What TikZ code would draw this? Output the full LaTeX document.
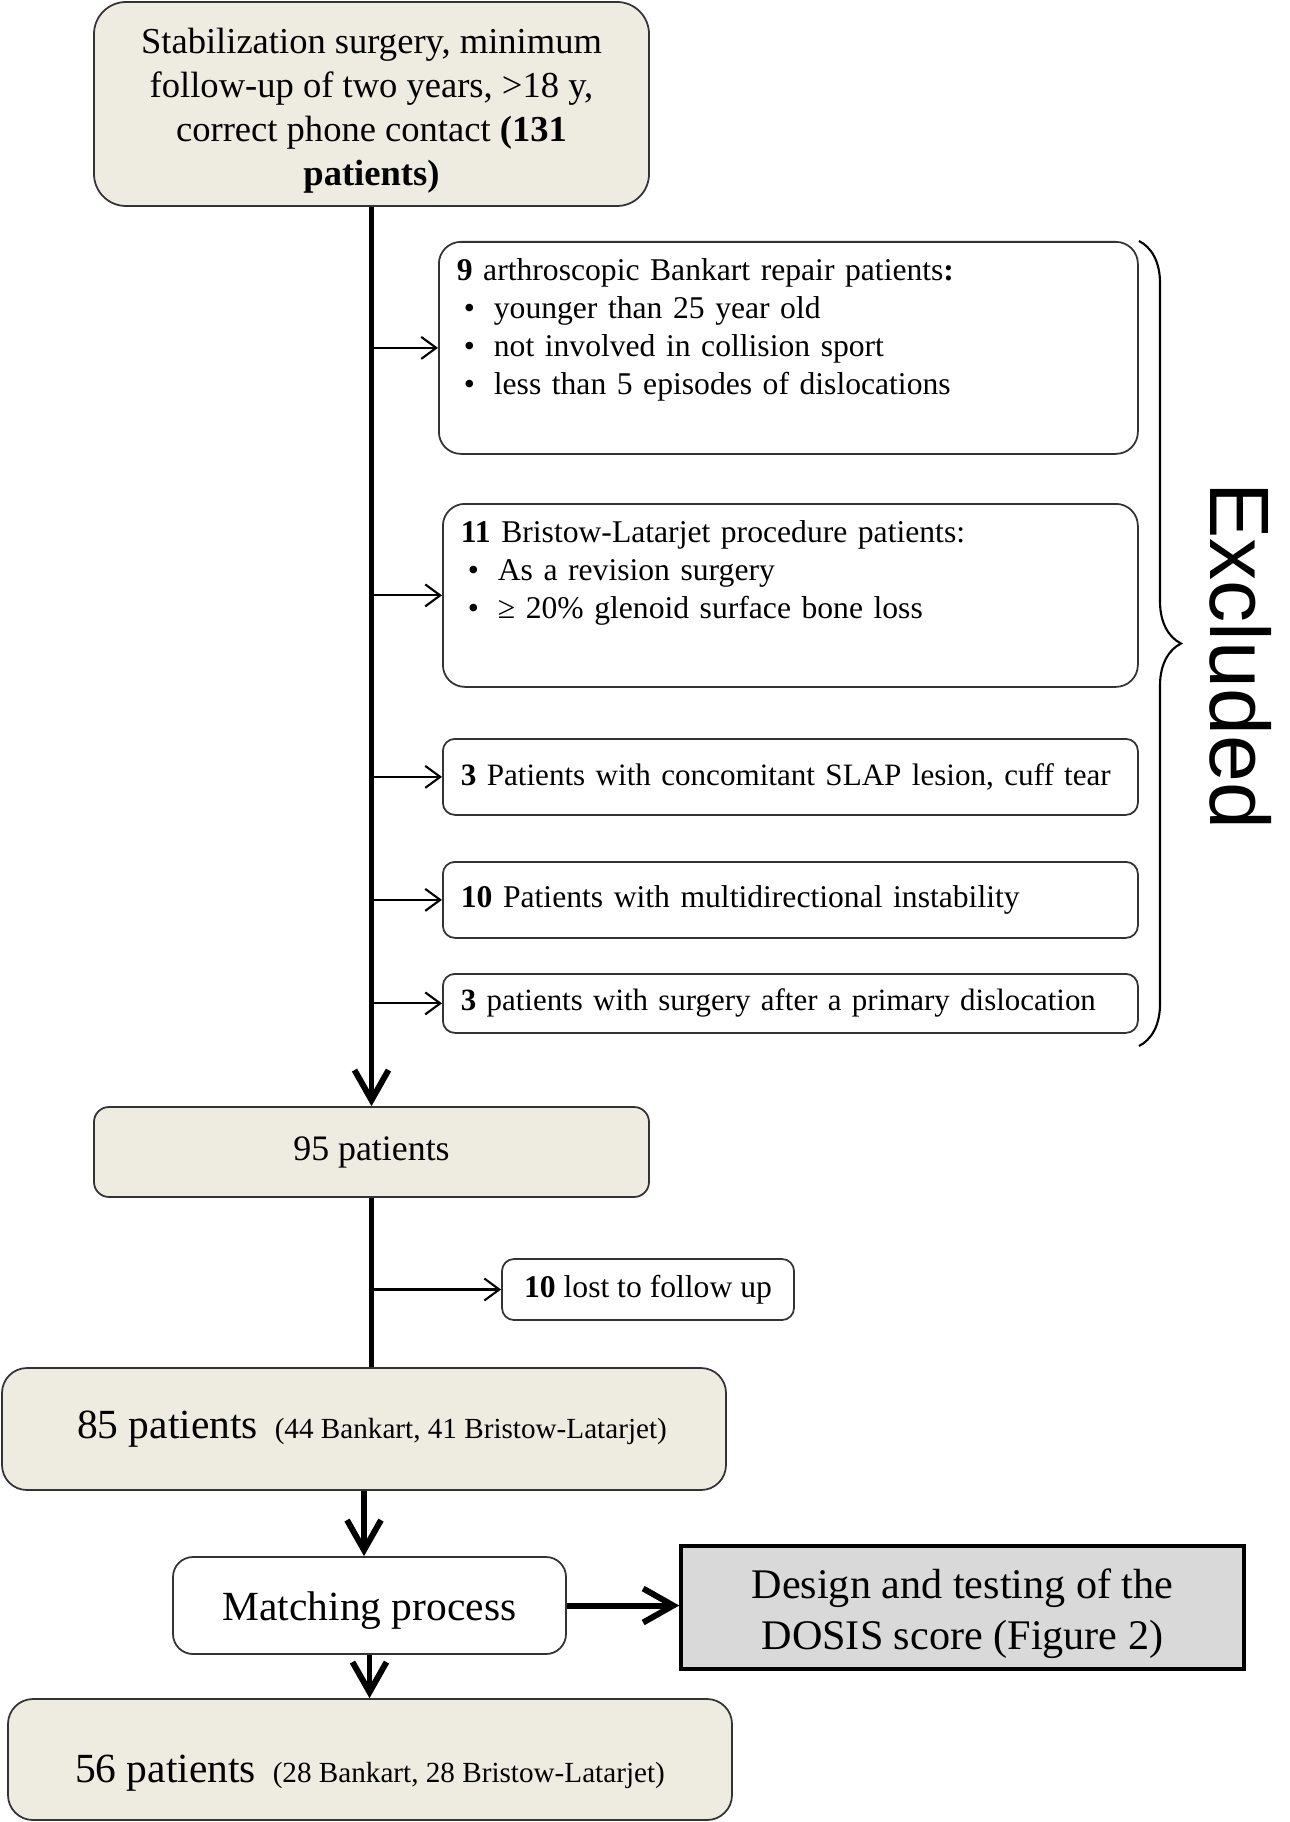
\documentclass[tikz,border=0pt]{standalone}
\usepackage{fontspec}
\setmainfont{Liberation Serif}
\newfontfamily\exclfont{Liberation Sans}
\usetikzlibrary{arrows.meta,decorations.pathreplacing,calc}
\definecolor{boxtan}{HTML}{EEECE1}
\definecolor{boxgray}{HTML}{D9D9D9}
\newcommand{\bul}{\hspace*{0.07cm}\makebox[0.30cm][l]{\textbullet}}

\begin{document}
\begin{tikzpicture}[
    tanbox/.style={draw=black!80, line width=0.5pt, fill=boxtan, rounded corners=#1, align=center, inner sep=0pt},
    tanbox/.default=0.2cm,
    whitebox/.style={draw=black!80, line width=0.5pt, fill=white, rounded corners=#1, align=center, inner sep=0pt},
    whitebox/.default=0.12cm,
    exbox/.style={draw=black!80, line width=0.5pt, fill=white, rounded corners=0.12cm, anchor=north west, align=left,
        inner xsep=0.18cm, inner ysep=0pt, font=\fontsize{9}{10.8}\selectfont},
    trunk/.style={line width=1.7pt},
    main/.style={trunk, -{Straight Barb[length=3mm,width=3.4mm]}},
    side/.style={line width=0.6pt, -{Straight Barb[length=1.5mm,width=2.2mm]}}
  ]
    \useasboundingbox (0,0) rectangle (12.89,-18.22);

    \node[tanbox=0.32cm, minimum width=5.55cm, minimum height=2.04cm, font=\fontsize{10.4}{12.5}\selectfont] (start) at (3.715,-1.04)
        {\rule{0pt}{0.38cm}Stabilization surgery, minimum\\ follow-up of two years, >18 y,\\ correct phone contact \textbf{(131}\\ \textbf{patients)}};

    \node[exbox, rounded corners=0.22cm, text width=6.63cm, text height=0.39cm, text depth=1.73cm] (excl1) at (4.38,-2.41)
        {\textbf{9} arthroscopic Bankart repair patients\textbf{:}\\ \bul younger than 25 year old\\ \bul not involved in collision sport\\ \bul less than 5 episodes of dislocations};
    \node[exbox, rounded corners=0.22cm, text width=6.59cm, text height=0.39cm, text depth=1.44cm] (excl2) at (4.42,-5.03)
        {\textbf{11} Bristow-Latarjet procedure patients:\\ \bul As a revision surgery\\ \bul ≥ 20\% glenoid surface bone loss};
    \node[exbox, text width=6.59cm, minimum height=0.76cm, font=\fontsize{8.85}{10.8}\selectfont] (excl3) at (4.42,-7.38)
        {\mbox{\textbf{3} Patients with concomitant SLAP lesion, cuff tear}};
    \node[exbox, text width=6.59cm, minimum height=0.76cm] (excl4) at (4.42,-8.61)
        {\textbf{10} Patients with multidirectional instability};
    \node[exbox, text width=6.59cm, minimum height=0.59cm, font=\fontsize{8.8}{10.8}\selectfont] (excl5) at (4.42,-9.73)
        {\mbox{\textbf{3} patients with surgery after a primary dislocation}};

    \draw[line width=0.6pt, decorate, decoration={brace, amplitude=0.42cm}] (11.39,-2.41) -- (11.39,-10.46);
    \node[rotate=-90, font=\exclfont\fontsize{24}{28}\selectfont] (excluded) at (12.41,-6.555) {Excluded};

    \node[tanbox=0.15cm, minimum width=5.55cm, minimum height=0.90cm, font=\fontsize{10.2}{12}\selectfont] (pat95) at (3.715,-11.52) {95 patients};
    \node[whitebox, minimum width=2.92cm, minimum height=0.61cm, font=\fontsize{9}{10.8}\selectfont] (lost) at (6.48,-12.895)
        {\textbf{10} lost to follow up};
    \node[tanbox=0.25cm, minimum width=7.24cm, minimum height=1.22cm] (pat85) at (3.64,-14.29)
        {\hspace*{0.16cm}{\fontsize{11.8}{14}\selectfont 85 patients}\hspace{0.08cm} {\fontsize{8.3}{10}\selectfont (44 Bankart, 41 Bristow-Latarjet)}};
    \node[whitebox=0.2cm, minimum width=3.93cm, minimum height=0.97cm, text height=0.39cm, text depth=0.09cm,
        font=\fontsize{11.8}{14}\selectfont] (match) at (3.695,-16.055) {Matching process};
    \node[draw=black, line width=1pt, fill=boxgray, minimum width=5.63cm, minimum height=1.23cm, align=center, inner sep=0pt,
        font=\fontsize{12}{14.5}\selectfont] (design) at (9.625,-16.075) {\rule{0pt}{0.42cm}Design and testing of the\\ DOSIS score (Figure 2)};
    \node[tanbox=0.25cm, minimum width=7.24cm, minimum height=1.21cm, text height=0.55cm, text depth=0.1cm] (pat56) at (3.70,-17.595)
        {{\fontsize{11.8}{14}\selectfont 56 patients}\hspace{0.08cm} {\fontsize{8.3}{10}\selectfont (28 Bankart, 28 Bristow-Latarjet)}};

    \draw[main] (start.south) -- (pat95.north);
    \foreach \b in {excl1,excl2,excl3,excl4,excl5}
        \draw[side] (start.south |- \b.west) -- (\b.west);
    \draw[trunk] (pat95.south) -- (pat95.south |- pat85.north);
    \draw[side] (pat95.south |- lost.west) -- (lost.west);
    \draw[main] (pat85.south) -- (pat85.south |- match.north);
    \draw[main] (match.south) -- (match.south |- pat56.north);
    \draw[main] (match.east) -- (match.east -| design.west);
\end{tikzpicture}
\end{document}
